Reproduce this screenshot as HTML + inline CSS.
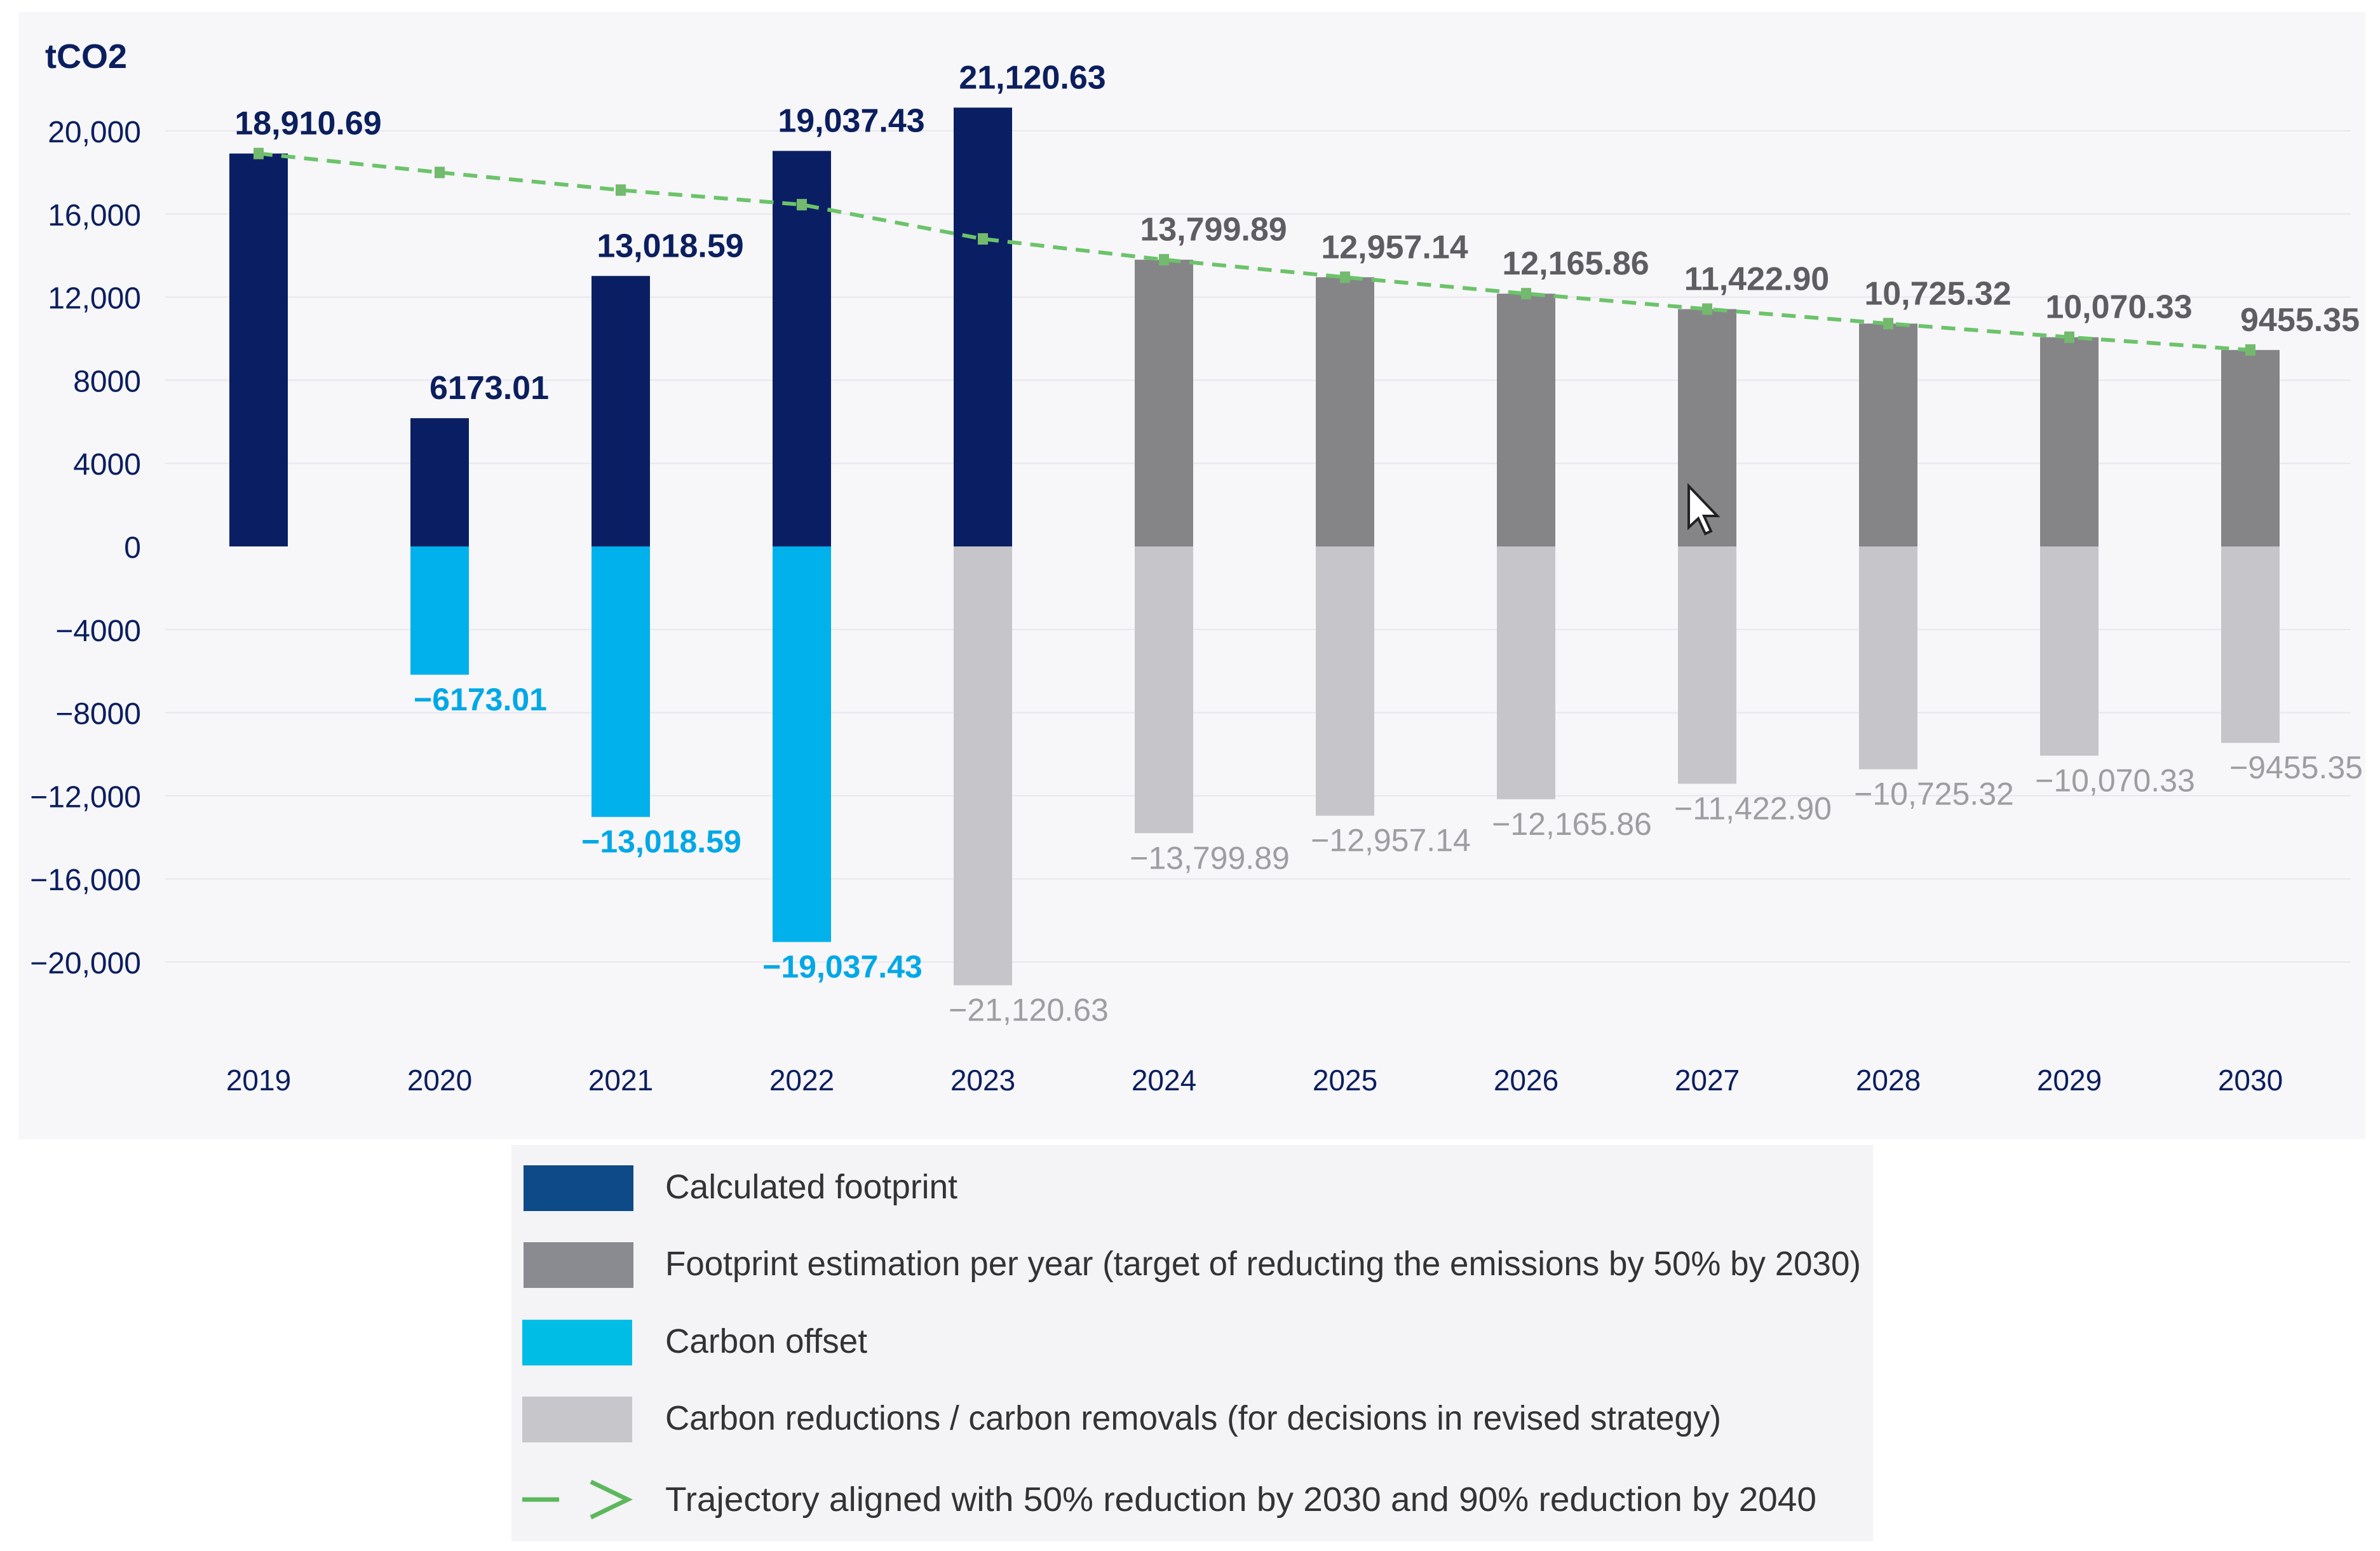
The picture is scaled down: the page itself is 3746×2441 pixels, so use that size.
<!DOCTYPE html>
<html><head><meta charset="utf-8"><style>
html,body{margin:0;padding:0;background:#fff;}
svg{display:block;}
text{font-family:"Liberation Sans",sans-serif;}
</style></head><body>
<svg id="chart" width="3746" height="2441" viewBox="0 0 3746 2441" xmlns="http://www.w3.org/2000/svg">
<rect x="0" y="0" width="3746" height="2441" fill="#ffffff"/>
<rect x="29" y="19" width="3694" height="1774" fill="#f7f6f9"/>
<g id="grid"></g>
<g id="yaxis"></g>
<text x="71" y="107" font-size="54" font-weight="bold" fill="#0b1f5e">tCO2</text>
<g id="bars"></g>
<g id="traj"></g>
<g id="labels"></g>
<g id="xaxis"></g>
<path d="M2658 765 L2658 830 L2673 816 L2684 840 L2693 836 L2682 812 L2703 812 Z" fill="#fff" stroke="#222" stroke-width="4"/>
<g>
<rect x="805" y="1802" width="2143" height="624" fill="#f4f3f6"/>
<rect x="824" y="1834" width="173" height="72" fill="#0d4a87"/>
<text x="1047" y="1886" font-size="54" fill="#333" textLength="460" lengthAdjust="spacingAndGlyphs">Calculated footprint</text>
<rect x="824" y="1955" width="173" height="72" fill="#8a8b90"/>
<text x="1047" y="2007" font-size="54" fill="#333" textLength="1882" lengthAdjust="spacingAndGlyphs">Footprint estimation per year (target of reducting the emissions by 50% by 2030)</text>
<rect x="822" y="2077" width="173" height="72" fill="#00bde6"/>
<text x="1047" y="2129" font-size="54" fill="#333" textLength="318" lengthAdjust="spacingAndGlyphs">Carbon offset</text>
<rect x="822" y="2198" width="173" height="72" fill="#c6c6cb"/>
<text x="1047" y="2250" font-size="54" fill="#333" textLength="1662" lengthAdjust="spacingAndGlyphs">Carbon reductions / carbon removals (for decisions in revised strategy)</text>
<line x1="822" y1="2360" x2="880" y2="2360" stroke="#5cb85c" stroke-width="7"/>
<path d="M930 2332 L988 2360 L930 2388" fill="none" stroke="#5cb85c" stroke-width="7"/>
<text x="1047" y="2378" font-size="54" fill="#333" textLength="1812" lengthAdjust="spacingAndGlyphs">Trajectory aligned with 50% reduction by 2030 and 90% reduction by 2040</text>
</g>
</svg>
<script>
const years = ["2019","2020","2021","2022","2023","2024","2025","2026","2027","2028","2029","2030"];
const footprint = [18910.69, 6173.01, 13018.59, 19037.43, 21120.63, 13799.89, 12957.14, 12165.86, 11422.90, 10725.32, 10070.33, 9455.35];
const isEstimate = [false,false,false,false,false,true,true,true,true,true,true,true];
const offsets = [0, -6173.01, -13018.59, -19037.43, -21120.63, -13799.89, -12957.14, -12165.86, -11422.90, -10725.32, -10070.33, -9455.35];
const offsetIsCarbonOffset = [true,true,true,true,false,false,false,false,false,false,false,false];
const trajectory = [18910.69, 18000, 17150, 16450, 14800, 13799.89, 12957.14, 12165.86, 11422.90, 10725.32, 10070.33, 9455.35];
const posLabels = ["18,910.69","6173.01","13,018.59","19,037.43","21,120.63","13,799.89","12,957.14","12,165.86","11,422.90","10,725.32","10,070.33","9455.35"];
const negLabels = ["","\u22126173.01","\u221213,018.59","\u221219,037.43","\u221221,120.63","\u221213,799.89","\u221212,957.14","\u221212,165.86","\u221211,422.90","\u221210,725.32","\u221210,070.33","\u22129455.35"];
const yTicks = [20000,16000,12000,8000,4000,0,-4000,-8000,-12000,-16000,-20000];
const yTickLabels = ["20,000","16,000","12,000","8000","4000","0","\u22124000","\u22128000","\u221212,000","\u221216,000","\u221220,000"];

const NS="http://www.w3.org/2000/svg";
const y0=860, pxPerUnit=654/20000;
function yScale(v){return y0 - v*pxPerUnit;}
function xScale(i){return 407 + i*285;}
const barW=92;
function mk(tag,attrs,parent){const e=document.createElementNS(NS,tag);for(const k in attrs)e.setAttribute(k,attrs[k]);parent.appendChild(e);return e;}
const grid=document.getElementById('grid'),yaxis=document.getElementById('yaxis'),bars=document.getElementById('bars'),traj=document.getElementById('traj'),labels=document.getElementById('labels'),xaxis=document.getElementById('xaxis');

yTicks.forEach((t,i)=>{
  if(t!==0){const g=mk('line',{x1:260,x2:3700,y1:yScale(t),y2:yScale(t),stroke:'#e8e7ee','stroke-width':2},grid);
  
  }
  const tx=mk('text',{x:222,y:yScale(t)+18,'font-size':48,fill:'#0b1f5e','text-anchor':'end'},yaxis);
  tx.textContent=yTickLabels[i];
  
  
});

years.forEach((yr,i)=>{
  const cx=xScale(i);
  const top=yScale(footprint[i]);
  const b=mk('rect',{x:cx-barW/2,y:top,width:barW,height:y0-top,fill:isEstimate[i]?'#858588':'#0a1f63'},bars);
  
  
  if(offsets[i]!==0){
    const bot=yScale(offsets[i]);
    const n=mk('rect',{x:cx-barW/2,y:y0,width:barW,height:bot-y0,fill:offsetIsCarbonOffset[i]?'#00b1ec':'#c5c5ca'},bars);
    
    
    const nl=mk('text',{x:cx+(offsetIsCarbonOffset[i]?64:72),y:bot+56,'font-size':50,'font-weight':offsetIsCarbonOffset[i]?'bold':'normal',fill:offsetIsCarbonOffset[i]?'#00a8e6':'#9d9da2','text-anchor':'middle'},labels);
    nl.textContent=negLabels[i];
    
    
  }
  const pl=mk('text',{x:cx+78,y:top-30,'font-size':52,'font-weight':'bold',fill:isEstimate[i]?'#5e5e62':'#0b1f5e','text-anchor':'middle'},labels);
  pl.textContent=posLabels[i];
  
  
  const xl=mk('text',{x:cx,y:1716,'font-size':46,fill:'#0b1f5e','text-anchor':'middle'},xaxis);
  xl.textContent=yr;
  
  
});

const pts=trajectory.map((v,i)=>xScale(i)+','+yScale(v)).join(' ');
const pl=mk('polyline',{points:pts,fill:'none',stroke:'#6cc36a','stroke-width':6,'stroke-dasharray':'22,14'},traj);


trajectory.forEach((v,i)=>{
  const m=mk('rect',{x:xScale(i)-8,y:yScale(v)-9,width:16,height:18,fill:'#73b96e'},traj);
  
  
});
</script>
</body></html>
